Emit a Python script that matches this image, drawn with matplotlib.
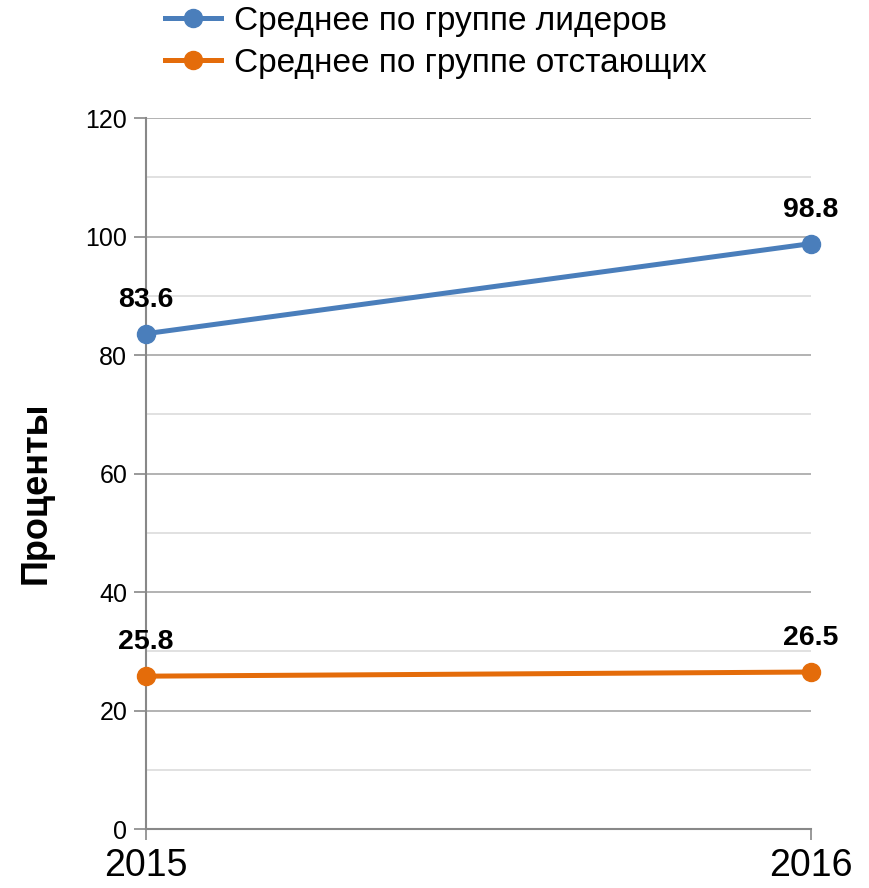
import matplotlib.pyplot as plt

years = [2015, 2016]
leaders = [83.6, 98.8]
laggards = [25.8, 26.5]
series_names = ["Среднее по группе лидеров", "Среднее по группе отстающих"]
y_ticks = [0, 20, 40, 60, 80, 100, 120]

plt.rcParams['font.family'] = ['Liberation Sans', 'DejaVu Sans']

fig = plt.figure(figsize=(8.69, 8.88), dpi=100)
ax = fig.add_axes([0.168, 0.0664, 0.765, 0.8007])

blue = '#4a7ebb'
orange = '#e46c0a'

ax.plot(years, leaders, color=blue, lw=3.6, marker='o', ms=13, label=series_names[0],
        clip_on=False, zorder=5)
ax.plot(years, laggards, color=orange, lw=3.6, marker='o', ms=13, label=series_names[1],
        clip_on=False, zorder=5)

# data labels above the points
for x, y in zip(years, leaders):
    ax.annotate(f"{y}", (x, y), xytext=(0, 15), textcoords='offset points',
                ha='center', va='bottom', fontsize=20.5, fontweight='bold')
for x, y in zip(years, laggards):
    ax.annotate(f"{y}", (x, y), xytext=(0, 15), textcoords='offset points',
                ha='center', va='bottom', fontsize=20.5, fontweight='bold')

ax.set_xlim(2015, 2016)
ax.set_ylim(0, 120)
ax.set_yticks(y_ticks)
ax.set_yticks(range(10, 120, 20), minor=True)
ax.set_xticks(years)
ax.set_xticklabels([str(y) for y in years], fontsize=27)
ax.tick_params(axis='y', which='major', labelsize=18, length=9, color='#888888', width=1.2, pad=4.5)
ax.tick_params(axis='y', which='minor', length=0)
ax.tick_params(axis='x', length=8, color='#888888', width=1.2, pad=6, direction='out')

ax.grid(axis='y', which='major', color='#a6a6a6', lw=1.2)
ax.grid(axis='y', which='minor', color='#dcdcdc', lw=1.2)
ax.set_axisbelow(True)

for s in ['top', 'right']:
    ax.spines[s].set_visible(False)
for s in ['left', 'bottom']:
    ax.spines[s].set_color('#888888')
    ax.spines[s].set_linewidth(1.5)

fig.text(0.0414, 0.445, "Проценты", rotation=90, fontsize=26, fontweight='bold',
         ha='center', va='center')

fig.legend(loc='upper left', bbox_to_anchor=(165 / 869, 1.0 - 6 / 888), frameon=False, fontsize=24,
           borderpad=0, borderaxespad=0, handlelength=1.67, handletextpad=0.4,
           labelspacing=0.32)

fig.savefig('out.png', dpi=100, facecolor='white')
